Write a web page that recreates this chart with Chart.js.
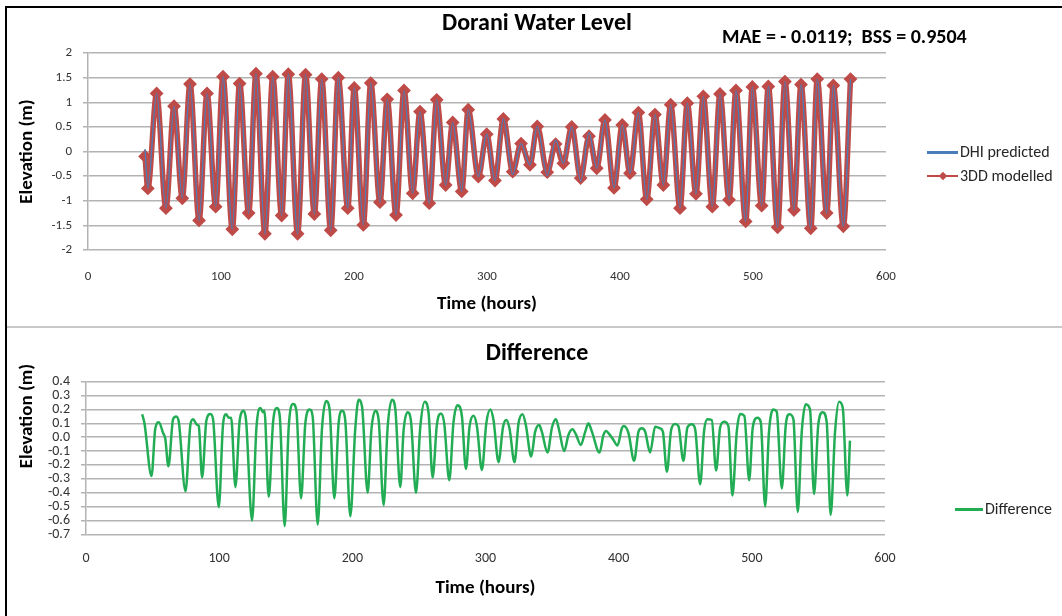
<!DOCTYPE html>
<html>
<head>
<meta charset="utf-8">
<title>Dorani Water Level</title>
<script src="https://cdn.jsdelivr.net/npm/chart.js@4.4.1/dist/chart.umd.min.js"></script>
<style>
  html, body { margin:0; padding:0; background:#fff; }
  #page { position:relative; width:1062px; height:616px; overflow:hidden; background:#fff;
          font-family: Carlito, Lato, "Open Sans", sans-serif; }
  canvas { position:absolute; left:0; }
  #cTop { top:0; }
  #cBot { top:328px; }
  #frame { position:absolute; left:5px; top:6px; width:1200px; height:800px; border:2px solid #000; box-sizing:border-box; pointer-events:none; }
  #sep { position:absolute; left:7px; top:326px; width:1060px; height:2px; background:#c8c8c8; }
  .mae { position:absolute; left:722px; top:24px; font-weight:bold; font-size:20px; line-height:24px; color:#000; white-space:pre; }
  .ytitle { position:absolute; font-weight:bold; font-size:19px; line-height:22px; color:#000; white-space:nowrap;
            transform:translate(-50%,-50%) rotate(-90deg); }
  .legText { position:absolute; font-size:16px; line-height:20px; color:#262626; white-space:nowrap; }
  .legLine { position:absolute; height:3px; }
  .legMark { position:absolute; width:6px; height:6px; transform:rotate(45deg); }
</style>
</head>
<body>
<div id="page">
  <canvas id="cTop" width="1062" height="326"></canvas>
  <canvas id="cBot" width="1062" height="288"></canvas>
  <div id="sep"></div>
  <div id="frame"></div>
  <div class="mae">MAE = - 0.0119;  BSS = 0.9504</div>
  <div class="ytitle" style="left:26px; top:416px;">Elevation (m)</div>
</div>
<script>
// ---------- DATA ----------
// Water level: times (hours) of the turning points of the tide curve
const hoursModel = [42.9,45.0,51.6,58.6,64.7,70.9,76.7,83.5,89.5,96.0,
  101.5,108.5,114.0,120.8,126.3,133.0,138.9,145.6,150.6,157.6,
  163.6,170.2,175.7,182.5,188.2,195.3,200.2,207.0,212.6,219.5,
  225.0,231.6,237.6,244.1,249.6,256.6,262.2,268.9,274.2,281.0,
  285.9,293.5,299.8,306.0,312.3,319.3,325.6,332.3,337.8,345.3,
  351.6,357.4,363.7,370.4,376.7,382.5,388.7,395.5,401.7,407.5,
  413.8,420.1,426.3,432.6,438.1,445.1,450.6,457.1,462.6,469.4,
  475.2,482.0,487.2,494.5,499.5,506.5,511.5,518.5,524.0,530.8,
  536.1,543.4,548.3,555.4,560.4,567.9,573.3];
// 3DD modelled elevation (m)
const level3DD = [-0.10,-0.75,1.18,-1.15,0.92,-0.95,1.37,-1.40,1.18,-1.12,
  1.52,-1.58,1.38,-1.25,1.58,-1.67,1.52,-1.30,1.57,-1.67,
  1.56,-1.27,1.47,-1.60,1.50,-1.15,1.29,-1.49,1.39,-1.03,
  1.06,-1.29,1.24,-0.85,0.81,-1.05,1.05,-0.68,0.59,-0.81,
  0.85,-0.51,0.35,-0.59,0.66,-0.41,0.16,-0.27,0.51,-0.42,
  0.15,-0.24,0.50,-0.54,0.31,-0.34,0.64,-0.74,0.54,-0.44,
  0.79,-0.97,0.75,-0.68,0.95,-1.15,0.98,-0.86,1.12,-1.12,
  1.17,-0.98,1.24,-1.42,1.31,-1.10,1.32,-1.54,1.42,-1.19,
  1.36,-1.56,1.47,-1.25,1.34,-1.52,1.47];
// DHI predicted elevation (m)
const levelDHI = [0.05,-0.75,1.18,-1.15,0.92,-0.95,1.37,-1.40,1.18,-1.12,
  1.52,-1.58,1.38,-1.25,1.58,-1.67,1.52,-1.30,1.57,-1.67,
  1.56,-1.27,1.47,-1.60,1.50,-1.15,1.29,-1.49,1.39,-1.03,
  1.06,-1.29,1.24,-0.85,0.81,-1.05,1.05,-0.68,0.59,-0.81,
  0.85,-0.51,0.35,-0.59,0.66,-0.47,0.16,-0.27,0.51,-0.49,
  0.23,-0.24,0.50,-0.60,0.39,-0.34,0.64,-0.74,0.54,-0.44,
  0.79,-0.97,0.75,-0.68,0.95,-1.15,0.98,-0.86,1.12,-1.12,
  1.17,-0.98,1.24,-1.42,1.31,-1.10,1.32,-1.54,1.42,-1.19,
  1.36,-1.56,1.47,-1.25,1.34,-1.52,1.47];

// Difference series
const hoursDiff = [42.2,43.9,49.2,52.0,54.7,57.9,59.5,61.9,
  65.4,67.7,69.7,74.7,
  78.4,80.4,83.4,84.7,87.2,
  90.4,93.4,95.4,99.7,
  102.9,105.2,107.2,109.0,112.2,
  115.4,118.4,120.2,124.7,
  128.0,131.0,133.0,134.0,137.2,
  140.5,143.3,145.5,149.2,
  152.2,155.5,158.0,161.5,
  164.7,168.0,170.2,174.0,
  177.2,180.3,182.9,186.5,
  189.7,192.3,194.7,198.5,
  202.2,204.7,207.3,211.5,
  214.3,217.3,219.8,223.5,
  226.5,229.8,232.3,236.0,
  238.5,241.5,244.0,247.8,
  251.0,254.3,257.3,260.3,
  263.5,266.5,269.0,272.8,
  276.0,279.0,282.3,285.3,
  288.0,291.0,293.6,297.3,
  300.6,303.6,306.0,309.8,
  313.1,315.6,318.0,321.8,
  324.8,327.8,330.3,334.3,
  337.3,340.3,342.3,346.6,
  349.9,352.9,355.3,359.1,
  362.3,365.3,367.9,371.6,
  374.9,377.3,379.9,385.6,
  388.6,390.6,393.1,396.1,399.1,
  402.4,403.9,407.4,411.6,
  414.9,417.4,419.9,423.6,
  427.4,431.1,433.2,436.2,
  439.4,442.4,444.9,448.6,
  451.6,454.9,457.4,461.2,
  464.2,466.7,469.9,473.2,
  476.2,479.2,482.4,485.4,
  488.7,491.2,494.4,498.0,
  500.7,504.2,506.7,510.0,
  512.9,516.2,518.7,522.5,
  525.5,528.2,531.2,534.5,
  537.5,540.5,543.7,546.7,
  549.9,553.2,556.2,559.2,
  562.5,565.5,568.3,571.7,
  573.7];
const levelDiff = [0.165,0.10,-0.28,0.06,0.107,0.03,-0.01,-0.21,
  0.13,0.15,0.11,-0.39,
  0.09,0.13,0.09,0.08,-0.29,
  0.12,0.167,0.13,-0.505,
  0.09,0.165,0.14,0.14,-0.36,
  0.12,0.19,0.12,-0.60,
  0.07,0.21,0.18,0.19,-0.43,
  0.11,0.21,0.15,-0.64,
  0.07,0.24,0.19,-0.44,
  0.10,0.20,0.15,-0.63,
  0.06,0.26,0.20,-0.44,
  0.10,0.19,0.12,-0.57,
  0.06,0.27,0.22,-0.40,
  0.05,0.19,0.12,-0.49,
  0.07,0.27,0.20,-0.36,
  0.05,0.18,0.12,-0.40,
  0.07,0.256,0.17,-0.29,
  0.09,0.17,0.10,-0.31,
  0.11,0.23,0.15,-0.23,
  0.076,0.155,0.076,-0.236,
  0.10,0.20,0.124,-0.18,
  0.07,0.124,0.064,-0.18,
  0.10,0.165,0.088,-0.14,
  0.04,0.088,0.04,-0.11,
  0.07,0.13,0.05,-0.10,
  0.016,0.057,0.02,-0.056,
  0.04,0.10,0.04,-0.11,
  0.016,0.045,0.02,-0.02,-0.06,
  0.064,0.08,0.028,-0.17,
  0.04,0.064,0.04,-0.11,
  0.076,0.064,0.04,-0.25,
  0.052,0.095,0.08,-0.17,
  0.07,0.093,0.06,-0.34,
  0.05,0.13,0.124,-0.24,
  0.07,0.112,0.08,-0.42,
  0.04,0.167,0.153,-0.31,
  0.07,0.14,0.11,-0.50,
  0.04,0.20,0.184,-0.37,
  0.088,0.165,0.13,-0.54,
  0.04,0.237,0.20,-0.41,
  0.09,0.18,0.11,-0.56,
  0.04,0.256,0.21,-0.42,
  -0.025];

// Tick labels
const xTickValues = [0,100,200,300,400,500,600];
const yTickValuesTop = [-2,-1.5,-1,-0.5,0,0.5,1,1.5,2];
const yTickValuesBottom = [-0.7,-0.6,-0.5,-0.4,-0.3,-0.2,-0.1,0,0.1,0.2,0.3,0.4];

// ---------- STYLE ----------
const FONT = "Carlito, Lato, 'Open Sans', sans-serif";
Chart.defaults.font.family = FONT;
const GRID = '#b3b3b3';
const BLUE = '#4a7ebb', RED = '#be4b48', GREEN = '#22ad55';

function pts(xs, ys) { return xs.map((x, i) => ({x: x, y: ys[i]})); }
function setTicks(arr) { return s => { s.ticks = arr.map(v => ({value: v})); }; }

function makeScales(o) {
  return {
    x: {
      type: 'linear', min: 0, max: 600,
      afterBuildTicks: setTicks(xTickValues),
      grid: {display: false, drawTicks: false},
      border: {display: false},
      ticks: {padding: o.xPad, font: {size: o.tickSize}, color: '#333', autoSkip: false, maxRotation: 0},
      title: {display: true, text: 'Time (hours)', color: '#000',
              font: {size: 19, weight: 'bold'}, padding: {top: 0, bottom: o.xTitlePad}},
      afterFit: s => { s.height = o.xHeight; }
    },
    y: {
      type: 'linear', min: o.yMin, max: o.yMax,
      afterBuildTicks: setTicks(o.yTicks),
      ticks: {padding: 11, font: {size: o.tickSize}, color: '#333', callback: o.fmt, autoSkip: false},
      grid: {color: GRID, lineWidth: 1.5, tickLength: 5, drawTicks: true},
      border: {display: true, color: GRID, width: 1.5},
      title: {display: o.yTitle, text: 'Elevation (m)', color: '#000',
              font: {size: 19, weight: 'bold'}, padding: {top: o.yTitlePad, bottom: 0}},
      afterFit: s => { s.width = o.yWidth; }
    },
    yR: {
      axis: 'y', position: 'right', display: true,
      grid: {display: false}, border: {display: false}, ticks: {display: false},
      afterFit: s => { s.width = o.rightWidth; }
    }
  };
}

const topChart = new Chart(document.getElementById('cTop'), {
  type: 'line',
  data: {
    datasets: [
      {label: 'DHI predicted', data: pts(hoursModel, levelDHI), yAxisID: 'y',
       borderColor: BLUE, borderWidth: 1.3, pointRadius: 0, cubicInterpolationMode: 'monotone'},
      {label: '3DD modelled', data: pts(hoursModel, level3DD), yAxisID: 'y',
       borderColor: RED, borderWidth: 5.5, pointRadius: 3, pointStyle: 'rectRot',
       pointBackgroundColor: RED, pointBorderColor: RED, cubicInterpolationMode: 'monotone'}
    ]
  },
  options: {
    responsive: false, animation: false, devicePixelRatio: 1,
    layout: {padding: {left: 12, right: 0, top: 0, bottom: 0}},
    plugins: {
      legend: {display: false}, tooltip: {enabled: false},
      title: {display: true, text: 'Dorani Water Level', color: '#000',
              font: {size: 24, weight: 'bold'}, padding: {top: 9.6, bottom: 14.6}}
    },
    scales: makeScales({xPad: 19, xTitlePad: 9.9, xHeight: 76, yMin: -2, yMax: 2, tickSize: 13,
      yTicks: yTickValuesTop, fmt: v => String(v), yTitle: true, yTitlePad: 3.9, yWidth: 76, rightWidth: 176})
  }
});

const botChart = new Chart(document.getElementById('cBot'), {
  type: 'line',
  data: {
    datasets: [
      {label: 'Difference', data: pts(hoursDiff, levelDiff), yAxisID: 'y',
       borderColor: GREEN, borderWidth: 2.5, pointRadius: 0, cubicInterpolationMode: 'monotone'}
    ]
  },
  options: {
    responsive: false, animation: false, devicePixelRatio: 1,
    layout: {padding: {left: 12, right: 0, top: 0, bottom: 0}},
    plugins: {
      legend: {display: false}, tooltip: {enabled: false},
      title: {display: true, text: 'Difference', color: '#000',
              font: {size: 24, weight: 'bold'}, padding: {top: 11.3, bottom: 13.6}}
    },
    scales: makeScales({xPad: 16, xTitlePad: 16.6, xHeight: 81.7, yMin: -0.7, yMax: 0.4, tickSize: 14,
      yTicks: yTickValuesBottom, fmt: v => Number(v).toFixed(1), yTitle: false, yTitlePad: 0, yWidth: 74, rightWidth: 177})
  }
});

// ---------- Legends (built from the chart datasets) ----------
function addLegend(chart, places, markers) {
  const page = document.getElementById('page');
  chart.data.datasets.forEach((ds, i) => {
    const p = places[i];
    const line = document.createElement('div');
    line.className = 'legLine';
    line.style.left = p.x + 'px'; line.style.top = (p.y - 1.5) + 'px';
    line.style.width = p.w + 'px'; line.style.background = ds.borderColor;
    line.style.height = (markers[i] ? 2 : 3) + 'px';
    page.appendChild(line);
    if (markers[i]) {
      const m = document.createElement('div');
      m.className = 'legMark';
      m.style.left = (p.x + p.w / 2 - 3) + 'px'; m.style.top = (p.y - 3.5) + 'px';
      m.style.background = ds.borderColor;
      page.appendChild(m);
    }
    const t = document.createElement('div');
    t.className = 'legText';
    t.textContent = ds.label;
    t.style.left = (p.x + p.w + 2) + 'px'; t.style.top = (p.y - 10) + 'px';
    page.appendChild(t);
  });
}
addLegend(topChart, [{x: 927, y: 152, w: 31}, {x: 927, y: 176, w: 31}], [false, true]);
addLegend(botChart, [{x: 955, y: 509, w: 28}], [false]);
</script>
</body>
</html>
